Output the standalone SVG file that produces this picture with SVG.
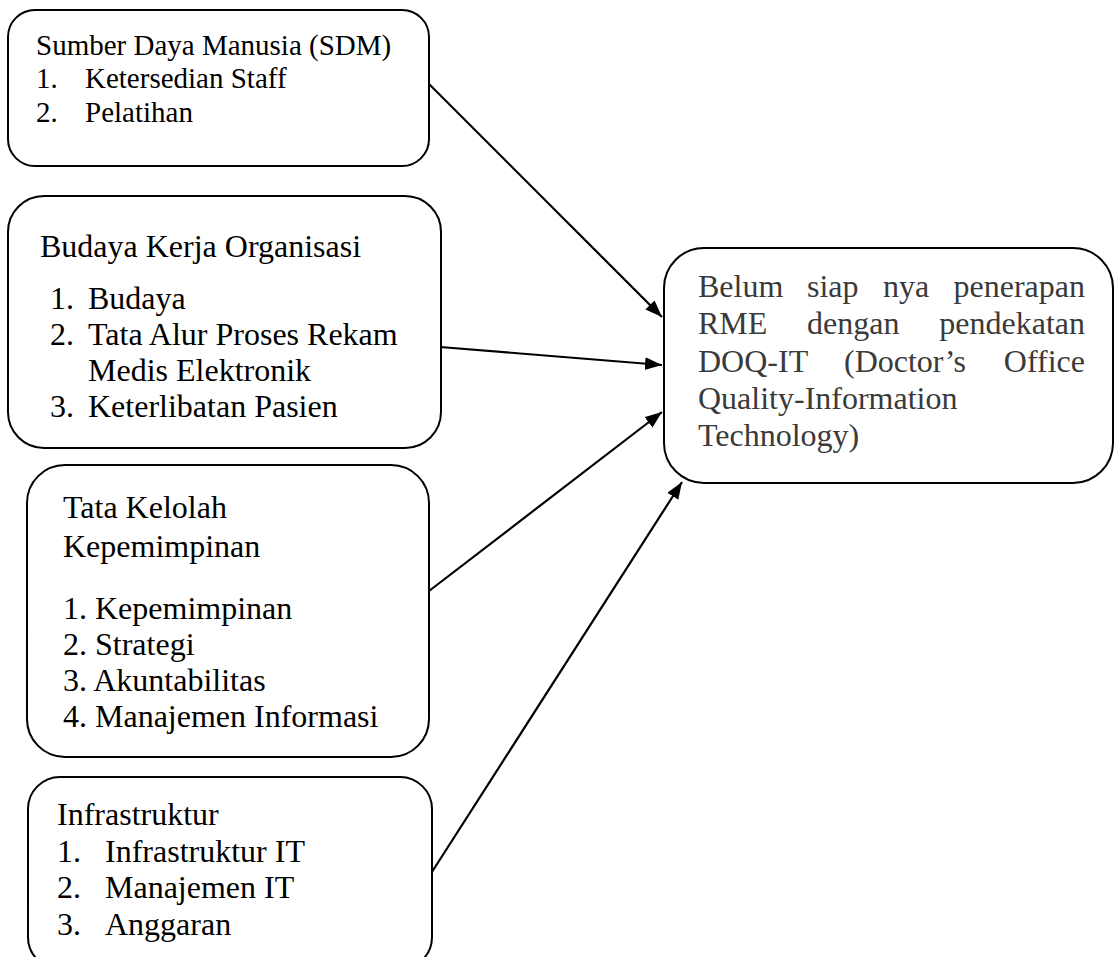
<svg xmlns="http://www.w3.org/2000/svg" width="1114" height="957" viewBox="0 0 1114 957">
<style>
.box{fill:#fff;stroke:#000;stroke-width:2}
.t{font-family:"Liberation Serif","Times New Roman",serif;fill:#000}
.s29{font-size:29px}
.s32{font-size:32px}
.g{fill:#3a3a3a}
.con{stroke:#000;stroke-width:2.2;fill:none;marker-end:url(#ah)}
</style>
<defs>
<marker id="ah" markerUnits="userSpaceOnUse" markerWidth="18" markerHeight="14" refX="17" refY="6.5" orient="auto">
<path d="M0,0 L17,6.5 L0,13 z" fill="#000"/>
</marker>
</defs>
<rect width="1114" height="957" fill="#fff"/>
<g id="connectors">
<line class="con" x1="428" y1="83" x2="662" y2="317"/>
<line class="con" x1="440" y1="347" x2="662" y2="365"/>
<line class="con" x1="429" y1="591" x2="662" y2="412"/>
<line class="con" x1="430" y1="875" x2="682" y2="482"/>
</g>
<g id="sdm">
<rect class="box" x="8" y="10" width="421" height="156" rx="27"/>
<text class="t s29" x="36" y="55">Sumber Daya Manusia (SDM)</text>
<text class="t s29" y="88"><tspan x="36">1.</tspan><tspan x="85">Ketersedian Staff</tspan></text>
<text class="t s29" y="122"><tspan x="36">2.</tspan><tspan x="85">Pelatihan</tspan></text>
</g>
<g id="budaya">
<rect class="box" x="8" y="196" width="433" height="252" rx="36"/>
<text class="t s32" x="40" y="257">Budaya Kerja Organisasi</text>
<text class="t s32" y="309"><tspan x="50">1.</tspan><tspan x="88">Budaya</tspan></text>
<text class="t s32" y="345"><tspan x="50">2.</tspan><tspan x="88">Tata Alur Proses Rekam</tspan></text>
<text class="t s32" x="88" y="381">Medis Elektronik</text>
<text class="t s32" y="417"><tspan x="50">3.</tspan><tspan x="88">Keterlibatan Pasien</tspan></text>
</g>
<g id="tatakelola">
<rect class="box" x="27" y="465" width="402" height="292" rx="38"/>
<text class="t s32" x="63" y="518">Tata Kelolah</text>
<text class="t s32" x="63" y="557">Kepemimpinan</text>
<text class="t s32" x="63" y="619">1. Kepemimpinan</text>
<text class="t s32" x="63" y="655">2. Strategi</text>
<text class="t s32" x="63" y="691">3. Akuntabilitas</text>
<text class="t s32" x="63" y="727">4. Manajemen Informasi</text>
</g>
<g id="infrastruktur">
<rect class="box" x="28" y="777" width="404" height="192" rx="32"/>
<text class="t s32" x="57" y="825">Infrastruktur</text>
<text class="t s32" y="862"><tspan x="57">1.</tspan><tspan x="105">Infrastruktur IT</tspan></text>
<text class="t s32" y="898"><tspan x="57">2.</tspan><tspan x="105">Manajemen IT</tspan></text>
<text class="t s32" y="935"><tspan x="57">3.</tspan><tspan x="105">Anggaran</tspan></text>
</g>
<g id="hasil">
<rect class="box" x="664" y="248" width="449" height="235" rx="40"/>
<text class="t s32 g" y="297"><tspan x="698">Belum</tspan><tspan x="807">siap</tspan><tspan x="883">nya</tspan><tspan x="1085" text-anchor="end">penerapan</tspan></text>
<text class="t s32 g" y="334"><tspan x="698">RME</tspan><tspan x="807">dengan</tspan><tspan x="1085" text-anchor="end">pendekatan</tspan></text>
<text class="t s32 g" y="372"><tspan x="698">DOQ-IT</tspan><tspan x="844">(Doctor’s</tspan><tspan x="1085" text-anchor="end">Office</tspan></text>
<text class="t s32 g" x="698" y="409">Quality-Information</text>
<text class="t s32 g" x="698" y="446">Technology)</text>
</g>
</svg>
